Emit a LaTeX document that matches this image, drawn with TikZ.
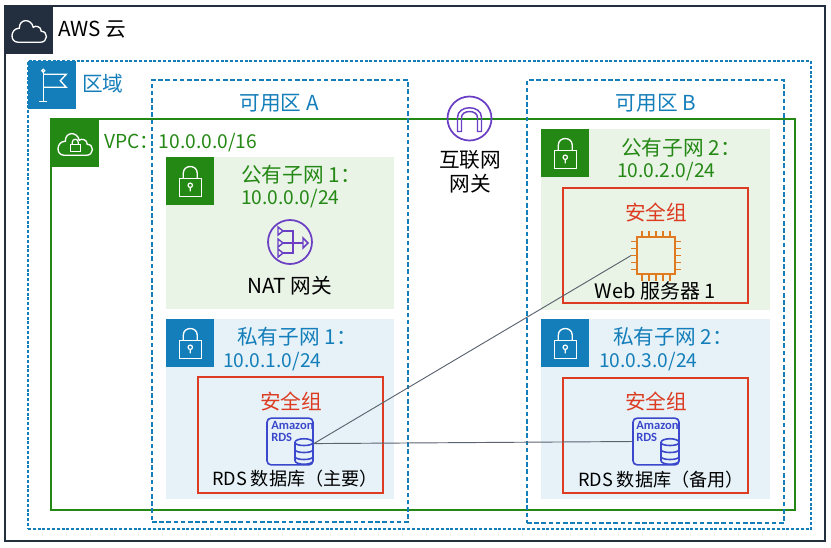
\documentclass[tikz,border=0pt]{standalone}
\usepackage{fontspec}
\setmainfont{Noto Sans CJK SC}
\newfontfamily\rdsfont{Carlito}
\usetikzlibrary{fit}
\definecolor{awsdark}{HTML}{232F3E}
\definecolor{awsblue}{HTML}{147EBA}
\definecolor{awsgreen}{HTML}{248814}
\definecolor{awsred}{HTML}{DD3B22}
\definecolor{awspurple}{HTML}{6B3FC4}
\definecolor{awsorange}{HTML}{E07A1F}
\definecolor{rdsblue}{HTML}{3B48CC}
\definecolor{pubfill}{HTML}{E9F3E6}
\definecolor{prifill}{HTML}{E6F2F8}
\tikzset{
    cloudglyph/.pic={
        \draw [white, line width=1pt] (-11,12) -- (11,12) .. controls (19,12) and (19,1) .. (12,1) .. controls (12,-4) and (6,-5) .. (4,-3) .. controls (2,-12) and (-10,-12) .. (-10,-2) .. controls (-19,-2) and (-20,12) .. (-11,12) -- cycle;
    },
    lockglyph/.pic={
        \draw [white, line width=1pt] (-11,-3) rectangle (11,15);
        \draw [white, line width=1pt] (-7,-3) -- (-7,-8) .. controls (-7,-17) and (7,-17) .. (7,-8) -- (7,-3);
        \draw [white, line width=0.9pt] (0,4) circle (2.2) (0,6.2) -- (0,10);
    },
    minilockglyph/.pic={
        \draw [white, line width=0.9pt] (-5,1) rectangle (5,8);
        \draw [white, line width=0.9pt] (-3,1) -- (-3,-1) .. controls (-3,-5) and (3,-5) .. (3,-1) -- (3,1);
    },
    flagglyph/.pic={
        \draw [white, line width=1pt] (-9,-13) -- (-9,16) (-13,16) -- (-5,16);
        \draw [white, line width=0.9pt] (-9,-14.5) circle (1.5);
        \draw [white, line width=1pt] (-9,-11) -- (14,-11) -- (8,-4.5) -- (14,2) -- (-9,2);
    },
    natglyph/.pic={
        \draw [awspurple, line width=1.3pt] (0,0) circle (22);
        \draw [awspurple, line width=1.1pt] (-7,-11) -- (3,-11) -- (3,11) -- (-7,11) (-7,1) -- (13,1);
        \foreach \y in {-11,1,11} {
            \draw [awspurple, line width=1.1pt] (-12,\y-4) -- (-7,\y) -- (-12,\y+4) -- cycle;
        }
        \draw [awspurple, line width=1.1pt] (13,-4) -- (18,1) -- (13,6) -- cycle;
    },
    igwglyph/.pic={
        \draw [awspurple, line width=1.3pt] (0,0) circle (22);
        \draw [awspurple, line width=1.1pt] (-12,13) -- (-12,-1) .. controls (-12,-14) and (12,-14) .. (12,-1) -- (12,13) -- (8,13) -- (8,-1) .. controls (8,-9) and (-8,-9) .. (-8,-1) -- (-8,13) -- cycle;
    },
    chippins/.pic={
        \foreach \p in {-14,-7,0,7,14} {
            \draw [awsorange, line width=1.2pt] (\p,-19) -- (\p,-25) (\p,19) -- (\p,25) (-19,\p) -- (-25,\p) (19,\p) -- (25,\p);
        }
    },
    dbglyph/.pic={
        \draw [rdsblue, line width=1.2pt, fill=prifill] (-9,-9) -- (-9,9) .. controls (-9,14) and (9,14) .. (9,9) -- (9,-9) .. controls (9,-14) and (-9,-14) .. (-9,-9) -- cycle;
        \draw [rdsblue, line width=1.2pt] (-9,-9) .. controls (-9,-5) and (9,-5) .. (9,-9);
        \draw [rdsblue, line width=1.2pt] (-9,-2) .. controls (-9,2) and (9,2) .. (9,-2);
        \draw [rdsblue, line width=1.2pt] (-9,5) .. controls (-9,9) and (9,9) .. (9,5);
    }
}

\begin{document}
\begin{tikzpicture}[
        x=0.75pt, y=-0.75pt,
        every node/.style={font=\fontsize{15.5}{18}\selectfont, inner sep=0pt},
        region/.style={draw=awsblue, line width=1.3pt, dash pattern=on 2.2pt off 1.4pt},
        zone/.style={draw=awsblue, line width=1.3pt, dash pattern=on 3.4pt off 2pt},
        iconbox/.style={minimum size=36pt, anchor=north west},
        secgroup/.style={draw=awsred, line width=1.3pt},
        bluetext/.style={text=awsblue},
        greentext/.style={text=awsgreen},
        redtext/.style={text=awsred},
        cidrtext/.style={font=\fontsize{14.4}{17}\selectfont},
        rdsbox/.style={draw=rdsblue, line width=1.2pt, rounded corners=3pt, minimum width=34.5pt, minimum height=35pt, align=left},
        rdstext/.style={font=\fontsize{9.4}{9}\selectfont\rdsfont\bfseries, text=rdsblue},
        smalllabel/.style={font=\fontsize{13.6}{17}\selectfont},
        link/.style={draw=awsdark!75, line width=0.7pt}
    ]
    \useasboundingbox (0,0) rectangle (831,547);

    % Containers
    \node (cloud) [fit={(5,6)(825,541)}, draw=awsdark, line width=1.4pt] {};
    \node (regionbox) [fit={(28,61)(811,529)}, region] {};
    \node (vpc) [fit={(51,119)(795,510)}, draw=awsgreen, line width=1.3pt] {};
    \node (pub1) [fit={(166,157)(394,309)}, fill=pubfill] {};
    \node (pri1) [fit={(166,319)(394,499)}, fill=prifill] {};
    \node (pub2) [fit={(541,129)(770,310)}, fill=pubfill] {};
    \node (pri2) [fit={(541,319)(770,499)}, fill=prifill] {};
    \node (zonea) [fit={(152,80)(408,522)}, zone] {};
    \node (zoneb) [fit={(527,80)(784,523)}, zone] {};
    \node (sg1) [fit={(198,377)(383,493)}, secgroup] {};
    \node (sg2) [fit={(563,188)(748,303)}, secgroup] {};
    \node (sg3) [fit={(563,378)(748,493)}, secgroup] {};

    % Icon squares
    \node (cloudicon) [iconbox, fill=awsdark] at (5,6) {};
    \node (flagicon) [iconbox, fill=awsblue] at (28,61) {};
    \node (vpcicon) [iconbox, fill=awsgreen] at (51,119) {};
    \node (pub1icon) [iconbox, fill=awsgreen] at (166,157) {};
    \node (pri1icon) [iconbox, fill=awsblue] at (166,319) {};
    \node (pub2icon) [iconbox, fill=awsgreen] at (541,129) {};
    \node (pri2icon) [iconbox, fill=awsblue] at (541,319) {};
    \pic at (cloudicon.center) {cloudglyph};
    \pic at (flagicon.center) {flagglyph};
    \pic at (vpcicon.center) {cloudglyph};
    \pic at (vpcicon.center) {minilockglyph};
    \foreach \n in {pub1icon,pri1icon,pub2icon,pri2icon} {
        \pic at (\n.center) {lockglyph};
    }

    % Labels
    \node (cloudlabel) [anchor=west] at (58,30) {AWS 云};
    \node (regionlabel) [anchor=west, bluetext] at (82,84) {区域};
    \node (zonealabel) [bluetext] at (279,103) {可用区 A};
    \node (zoneblabel) [bluetext] at (656,103) {可用区 B};
    \node (vpclabel) [anchor=west, greentext, cidrtext] at (104,143) {VPC：10.0.0.0/16};
    \node (pub1label) [anchor=west, greentext] at (241,175) {公有子网 1：};
    \node (pub1cidr) [anchor=west, greentext, cidrtext] at (241,199) {10.0.0.0/24};
    \node (pri1label) [anchor=west, bluetext] at (237,337) {私有子网 1：};
    \node (pri1cidr) [anchor=west, bluetext, cidrtext] at (223,362) {10.0.1.0/24};
    \node (pub2label) [anchor=west, greentext] at (621,148) {公有子网 2：};
    \node (pub2cidr) [anchor=west, greentext, cidrtext] at (617,172) {10.0.2.0/24};
    \node (pri2label) [anchor=west, bluetext] at (613,337) {私有子网 2：};
    \node (pri2cidr) [anchor=west, bluetext, cidrtext] at (599,362) {10.0.3.0/24};
    \node (sg1label) [redtext] at (291,401) {安全组};
    \node (sg2label) [redtext] at (656,212) {安全组};
    \node (sg3label) [redtext] at (656,401) {安全组};

    % Gateways
    \pic at (469.5,118.5) {igwglyph};
    \node (igw) [align=center] at (470,172) {互联网\\网关};
    \pic at (290,242) {natglyph};
    \node (nat) at (290,286) {NAT 网关};

    % Servers
    \node (ec2) [draw=awsorange, line width=1.4pt, minimum size=28pt] at (656,255.5) {};
    \pic at (ec2.center) {chippins};
    \node (web) [font=\fontsize{15}{18}\selectfont] at (655.5,291) {Web 服务器 1};

    \node (rds1) [rdsbox] at (290,441.5) {};
    \node (rds1text) [rdstext, align=left, anchor=north west] at (271,421) {Amazon\\RDS};
    \pic at (304,451.5) {dbglyph};
    \node (db1) [smalllabel] at (295,479) {RDS 数据库（主要）};

    \node (rds2) [rdsbox] at (656,441.5) {};
    \node (rds2text) [rdstext, align=left, anchor=north west] at (636,421) {Amazon\\RDS};
    \pic at (670,451.5) {dbglyph};
    \node (db2) [smalllabel] at (661,480) {RDS 数据库（备用）};

    % Arrows
    \draw [link] (rds1.-5) -- ([xshift=-4pt]ec2.west);
    \draw [link] (rds1.-5) -- (rds2.west);

\end{tikzpicture}
\end{document}
